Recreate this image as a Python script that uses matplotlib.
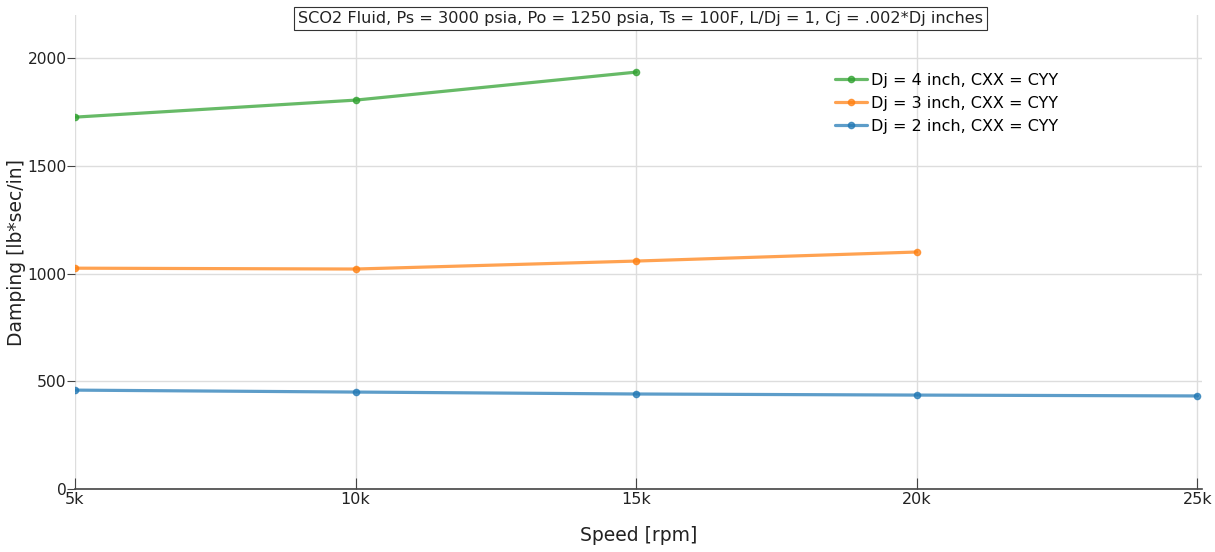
import matplotlib
matplotlib.use("Agg")
import matplotlib.pyplot as plt

# Data
speed = [5000, 10000, 15000, 20000, 25000]
damp_dj4 = [1726, 1805, 1935]
damp_dj3 = [1025, 1021, 1058, 1100]
damp_dj2 = [459, 450, 441, 436, 432]

labels = ["Dj = 4 inch, CXX = CYY", "Dj = 3 inch, CXX = CYY", "Dj = 2 inch, CXX = CYY"]
colors = ["#2ca02c", "#ff7f0e", "#1f77b4"]

title = "SCO2 Fluid, Ps = 3000 psia, Po = 1250 psia, Ts = 100F, L/Dj = 1, Cj = .002*Dj inches"

plt.rcParams["font.family"] = ["DejaVu Sans"]

fig = plt.figure(figsize=(12.15, 5.52), dpi=100)
ax = fig.add_axes([0.0617, 0.1141, 0.928, 0.8587])

series = [damp_dj4, damp_dj3, damp_dj2]
for vals, lab, c in zip(series, labels, colors):
    ax.plot(speed[:len(vals)], vals, color=c, alpha=0.72, lw=2.3,
            marker="o", ms=4.5, label=lab, solid_capstyle="round")

ax.set_xlim(5000, 25090)
ax.set_ylim(0, 2200)
ax.set_xticks(speed)
ax.set_xticklabels(["5k", "10k", "15k", "20k", "25k"])
ax.set_yticks([0, 500, 1000, 1500, 2000])
ax.grid(True, color="#dddddd", lw=1)
ax.set_axisbelow(True)

for s in ["top", "right", "left"]:
    ax.spines[s].set_visible(False)
ax.spines["bottom"].set_color("#444444")
ax.spines["bottom"].set_linewidth(1.2)

ax.tick_params(axis="x", direction="in", length=8, color="#444444",
               labelsize=11.5, labelcolor="#222222", pad=2)
ax.tick_params(axis="y", direction="out", length=6, color="#444444",
               labelsize=11.2, labelcolor="#222222", pad=0)

ax.set_xlabel("Speed [rpm]", fontsize=13.5, color="#222222", labelpad=14)
ax.set_ylabel("Damping [lb*sec/in]", fontsize=13.5, color="#222222", labelpad=1)

fig.text(0.527, 0.966, title, ha="center", va="center", fontsize=11.6,
         color="#222222",
         bbox=dict(boxstyle="square,pad=0.25", fc="white", ec="#333333", lw=0.8))

leg = ax.legend(loc="upper left", bbox_to_anchor=(0.661, 0.908), frameon=False,
                fontsize=11.5, handlelength=2.0, labelspacing=0.5, handletextpad=0.3)

fig.savefig("out.png", dpi=100)
